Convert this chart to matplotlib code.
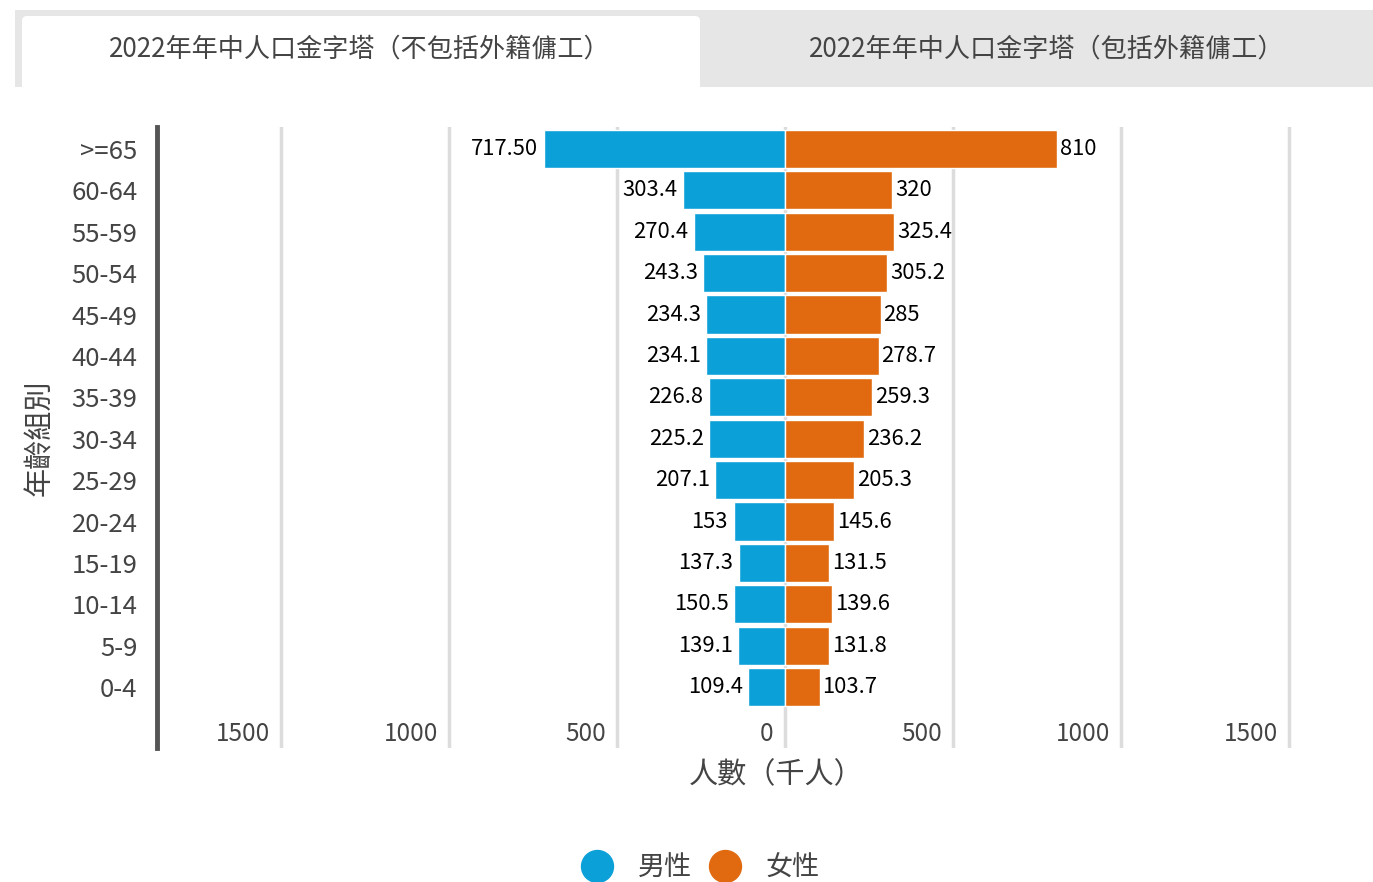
import numpy as np
import matplotlib.pyplot as plt
from matplotlib.patches import Rectangle, FancyBboxPatch
from matplotlib.lines import Line2D

plt.rcParams['font.family'] = ['Noto Sans CJK TC', 'DejaVu Sans']

# 資料（由上至下：>=65 ... 0-4）
age_groups = ['>=65', '60-64', '55-59', '50-54', '45-49', '40-44', '35-39',
              '30-34', '25-29', '20-24', '15-19', '10-14', '5-9', '0-4']
male = [717.50, 303.4, 270.4, 243.3, 234.3, 234.1, 226.8,
        225.2, 207.1, 153, 137.3, 150.5, 139.1, 109.4]
female = [810, 320, 325.4, 305.2, 285, 278.7, 259.3,
          236.2, 205.3, 145.6, 131.5, 139.6, 131.8, 103.7]
male_text = ['717.50', '303.4', '270.4', '243.3', '234.3', '234.1', '226.8',
             '225.2', '207.1', '153', '137.3', '150.5', '139.1', '109.4']
female_text = ['810', '320', '325.4', '305.2', '285', '278.7', '259.3',
               '236.2', '205.3', '145.6', '131.5', '139.6', '131.8', '103.7']
ticks = [-1500, -1000, -500, 0, 500, 1000, 1500]
tab_titles = ['2022年年中人口金字塔（不包括外籍傭工）', '2022年年中人口金字塔（包括外籍傭工）']

blue = '#0ca0d8'
orange = '#e16a10'
gray_txt = '#444444'

W, H = 13.73, 8.82
fig = plt.figure(figsize=(W, H), dpi=100)

# 上方分頁
def px(x, y):
    return x / 100, (882 - y) / 100

fig.patches.append(Rectangle(px(15, 87), 13.58, 0.77, transform=fig.dpi_scale_trans,
                             facecolor='#e6e6e6', edgecolor='none'))
fig.patches.append(FancyBboxPatch(px(22, 95), 6.78, 0.79, boxstyle='round,pad=0,rounding_size=0.05',
                                  transform=fig.dpi_scale_trans, facecolor='white', edgecolor='none'))
fig.text(360 / 1373, 1 - 49 / 882, tab_titles[0], ha='center', va='center', fontsize=18.8, color=gray_txt)
fig.text(1047 / 1373, 1 - 49 / 882, tab_titles[1], ha='center', va='center', fontsize=18.8, color=gray_txt)

ax = fig.add_axes([157 / 1373, 1 - 748 / 882, (1299 - 157) / 1373, (748 - 127) / 882])

y = np.arange(len(age_groups))[::-1]
ax.barh(y, -np.array(male), height=0.92, color=blue, edgecolor='white', linewidth=1, zorder=3)
ax.barh(y, female, height=0.92, color=orange, edgecolor='white', linewidth=1, zorder=3)

for yi, m, f, mt, ft in zip(y, male, female, male_text, female_text):
    ax.annotate(mt, (-m, yi), xytext=(-4, 0), textcoords='offset points',
                ha='right', va='center', fontsize=15.8, color='black')
    ax.annotate(ft, (f, yi), xytext=(2, 0), textcoords='offset points',
                ha='left', va='center', fontsize=15.8, color='black')

ax.set_xlim(-1869, 1530)
ax.set_ylim(-1.47, 13.53)
ax.set_xticks(ticks)
ax.set_xticklabels([])
ax.tick_params(axis='x', length=0)
ax.grid(axis='x', color='#dcdcdc', linewidth=2.5, zorder=0)

for t in ticks:
    ax.annotate(str(abs(t)), (t, 0.022), xycoords=ax.get_xaxis_transform(),
                xytext=(-8, 0), textcoords='offset points',
                ha='right', va='center', fontsize=17.5, color=gray_txt)

ax.set_yticks(y)
ax.set_yticklabels(age_groups, fontsize=18.5, color=gray_txt)
ax.tick_params(axis='y', length=0, pad=14)

for s in ['top', 'right', 'bottom']:
    ax.spines[s].set_visible(False)
ax.spines['left'].set_color('#555555')
ax.spines['left'].set_linewidth(3.5)

fig.text(40 / 1373, 1 - 438 / 882, '年齡組別', rotation=90, ha='center', va='center',
         fontsize=21, color=gray_txt)
fig.text(776 / 1373, 1 - 775 / 882, '人數（千人）', ha='center', va='center',
         fontsize=21, color=gray_txt)

handles = [Line2D([], [], marker='o', linestyle='none', markersize=23, color=blue),
           Line2D([], [], marker='o', linestyle='none', markersize=23, color=orange)]
fig.legend(handles, ['男性', '女性'], loc='center', bbox_to_anchor=(695 / 1373, 1 - 868 / 882),
           ncol=2, frameon=False, fontsize=19.5, handletextpad=0.5, columnspacing=0.2,
           labelcolor=gray_txt)

fig.savefig('out.png', dpi=100)
